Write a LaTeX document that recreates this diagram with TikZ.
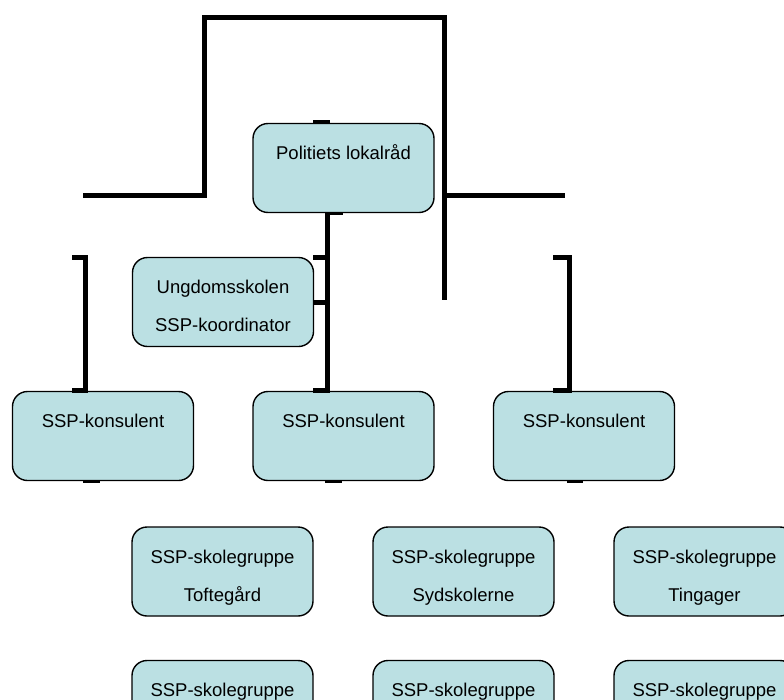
\documentclass[tikz,border=0pt]{standalone}
\usepackage{fontspec}
\setmainfont{Liberation Sans}
\usetikzlibrary{positioning}
\definecolor{boxfill}{RGB}{187,224,227}

\begin{document}
\begin{tikzpicture}[
        x=1pt,
        y=1pt,
        yscale=-1,
        every node/.style={font=\fontsize{18.5pt}{38pt}\selectfont},
        orgbox/.style={draw, line width=1.4pt, rounded corners=15pt, fill=boxfill,
                minimum width=181pt, minimum height=89pt, inner sep=0pt,
                align=center, text height=64pt, text depth=5pt},
        single/.style={text height=13pt, text depth=30pt},
        bar/.style={line width=5pt},
        tab/.style={line width=3pt}
    ]
    \useasboundingbox (0,0) rectangle (784,699);
    \clip (0,0) rectangle (784,699);

    \node[orgbox, single] (politi) at (343.5,168) {Politiets lokalråd};
    \node[orgbox] (ungdom) at (223,302) {Ungdomsskolen\\SSP-koordinator};
    \node[orgbox, single] (konsA) at (103,436) {SSP-konsulent};
    \node[orgbox, single] (konsB) at (343.5,436) {SSP-konsulent};
    \node[orgbox, single] (konsC) at (584,436) {SSP-konsulent};
    \node[orgbox] (toftegaard) at (222.5,571.5) {SSP-skolegruppe\\Toftegård};
    \node[orgbox] (syd) at (463.5,571.5) {SSP-skolegruppe\\Sydskolerne};
    \node[orgbox] (tingager) at (704.5,571.5) {SSP-skolegruppe\\Tingager};
    \node[orgbox, single] (gruppeA) at (222.5,705) {SSP-skolegruppe};
    \node[orgbox, single] (gruppeB) at (463.5,705) {SSP-skolegruppe};
    \node[orgbox, single] (gruppeC) at (704.5,705) {SSP-skolegruppe};

    \coordinate (armL) at (83,195);
    \coordinate (armR) at (565,195);
    \coordinate (topL) at (204.5,17.5);
    \coordinate (topR) at (444.5,17.5);
    \coordinate (topEnd) at (444.5,300);
    \coordinate (spine) at (327.5,0);

    \draw[bar] (armL) -- (armL -| topL) -- (topL) -- (topR) -- (topEnd);
    \draw[bar] (armR -| topR) -- (armR);

    \draw[bar] (politi.south -| spine) -- (konsB.north -| spine);
    \draw[bar] (313,257.5) -- (spine |- 0,257.5);
    \draw[bar] (ungdom.east) -- (ungdom.east -| spine);
    \draw[bar] (313,390.5) -- (330,390.5);

    \draw[bar] (72,257.5) -- (85.5,257.5) -- (85.5,390.5) -- (72,390.5);
    \draw[bar] (553,257.5) -- (569,257.5) -- (569,390.5) -- (553,390.5);

    \draw[tab, line width=4pt] (313,122) -- (330,122);
    \draw[tab] (politi.south -| spine) -- ++(15,0);
    \draw[tab] (83,481.5) -- (100,481.5);
    \draw[tab] (325,481.5) -- (342,481.5);
    \draw[tab] (567,481.5) -- (583,481.5);
\end{tikzpicture}
\end{document}
